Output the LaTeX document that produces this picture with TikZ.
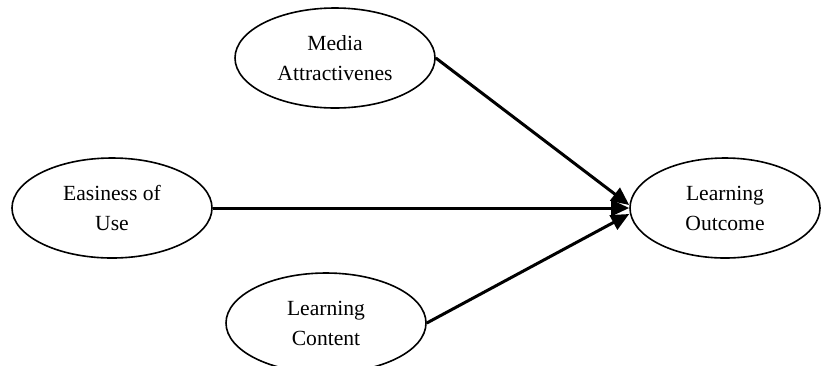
\documentclass[tikz,border=0pt]{standalone}
\usepackage{fontspec}
\setmainfont{Liberation Serif}
\usetikzlibrary{shapes.geometric,arrows.meta}
\begin{document}
\begin{tikzpicture}[
    factor/.style={draw=black, ellipse, line width=0.8pt, minimum width=100pt, minimum height=50pt,
        inner sep=0pt, align=center, font=\fontsize{10.8pt}{15pt}\selectfont},
    link/.style={line width=1.5pt, -{Triangle[length=9pt,width=8pt]}}
    ]
    \useasboundingbox (0,0) rectangle (411pt,-182.5pt);
    \node[factor] (media) at (167.5pt,-29pt) {Media\\Attractivenes};
    \node[factor] (ease) at (56pt,-104pt) {Easiness of\\Use};
    \node[factor] (content) at (163pt,-161.5pt) {Learning\\Content};
    \node[factor, minimum width=95pt] (outcome) at (362.5pt,-104pt) {Learning\\Outcome};
    \draw[link] (media.east) -- ([yshift=1.5pt]outcome.west);
    \draw[link] (ease.east) -- (outcome.west);
    \draw[link] (content.east) -- ([yshift=-3pt]outcome.west);
    \end{tikzpicture}
\end{document}
